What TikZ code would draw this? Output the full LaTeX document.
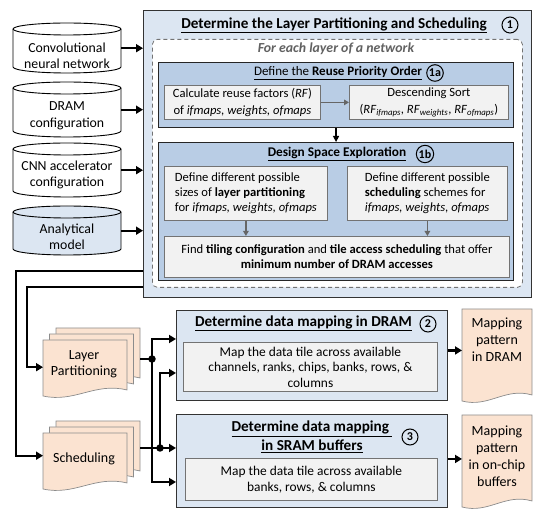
\documentclass[tikz,border=0pt]{standalone}
\usepackage{fontspec}
\setmainfont{Carlito}
\usetikzlibrary{arrows.meta}
\definecolor{lblue}{HTML}{DCE6F2}
\definecolor{mblue}{HTML}{B9CDE5}
\definecolor{gbox}{HTML}{F2F2F2}
\definecolor{peach}{HTML}{FBE3D1}
\newcommand\fntA{\fontsize{12.6}{15}\selectfont}
\newcommand\fntB{\fontsize{13.6}{16}\selectfont}
\newcommand\fntC{\fontsize{13.8}{16.5}\selectfont}
\newcommand\fntT{\fontsize{15.2}{18}\selectfont}
\newcommand\drawdoc[4]{%
  \filldraw[docfill] (#1,#2) -- (#3,#2) -- (#3,{#4-7})
    .. controls ({#1+0.62*(#3-#1)},{#4-15}) and ({#1+0.38*(#3-#1)},{#4+6}) .. (#1,{#4-1}) -- cycle;}
\newcommand\drawcyl[4]{%
  \filldraw[cylline, fill=#4] (#1,{#2+6}) -- (#1,{#3-6})
    arc[start angle=180, end angle=360, x radius=54pt, y radius=6pt]
    -- ({#1+108},{#2+6})
    arc[start angle=0, end angle=180, x radius=54pt, y radius=6pt] -- cycle;
  \draw[cylline] (#1,{#2+6}) arc[start angle=180, end angle=360, x radius=54pt, y radius=6pt];}
\begin{document}
\begin{tikzpicture}[x=1pt,y=-1pt,
  font=\fntB,
  bigbox/.style={draw=black!80, line width=0.9pt, fill=lblue, anchor=north west, inner sep=0},
  midbox/.style={draw=black!85, line width=1.1pt, fill=mblue, anchor=north west, inner sep=0},
  graybox/.style={draw=black!55, line width=0.8pt, fill=gbox, anchor=north west, inner sep=0},
  dashbox/.style={draw=black!55, line width=0.8pt, dash pattern=on 4pt off 3pt, rounded corners=5pt, fill=white, anchor=north west, inner sep=0},
  shapebox/.style={inner sep=0, anchor=north west},
  txt/.style={align=center, inner sep=0},
  ttl/.style={align=center, inner sep=0, font=\fntT\bfseries},
  num/.style={circle, draw, line width=1pt, inner sep=0.8pt, minimum size=16, font=\fontsize{12}{12}\selectfont\bfseries},
  thickline/.style={line width=2.2pt},
  arr/.style={line width=2.2pt, -{Triangle[length=7pt,width=8pt]}},
  barr/.style={line width=1.3pt, -{Triangle[length=6pt,width=6pt]}},
  garr/.style={draw=black!60, line width=1.4pt, -{Triangle[length=5pt,width=5.5pt]}},
  dot/.style={circle, fill=black, inner sep=0, minimum size=7.5},
  docfill/.style={fill=peach, draw=black!45, line width=0.7pt},
  cylline/.style={draw=black, line width=0.9pt}]
\useasboundingbox (0,0) rectangle (547,518);

% ---------- inputs (cylinders)
\drawcyl{13}{23}{73}{white}
\drawcyl{13}{82}{137}{white}
\drawcyl{13}{143}{197}{white}
\drawcyl{13}{206}{255}{lblue}
\node[shapebox, minimum width=108, minimum height=50] (cyl1) at (13,23) {};
\node[shapebox, minimum width=108, minimum height=55] (cyl2) at (13,82) {};
\node[shapebox, minimum width=108, minimum height=54] (cyl3) at (13,143) {};
\node[shapebox, minimum width=108, minimum height=49] (cyl4) at (13,206) {};
\node[txt, font=\fntC] (cyl1t) at (67,56) {Convolutional\\neural network};
\node[txt, font=\fntC] (cyl2t) at (67,116) {DRAM\\configuration};
\node[txt, font=\fntC] (cyl3t) at (67,175) {CNN accelerator\\configuration};
\node[txt, font=\fntC] (cyl4t) at (67,237) {Analytical\\model};

% ---------- step 1
\node[bigbox, minimum width=388, minimum height=287] (mainbox) at (143,10) {};
\node[ttl] (t1) at (334,25) {\underline{Determine the Layer Partitioning and Scheduling}};
\node[num] (n1) at (510,25) {1};
\node[dashbox, minimum width=370, minimum height=248] (dbox) at (152,39) {};
\node[txt, font=\fntC\bfseries\itshape, text=black!62] (foreach) at (336,49) {For each layer of a network};

\node[midbox, minimum width=355, minimum height=65] (box1a) at (158,62) {};
\node[txt, font=\fontsize{13}{15}\selectfont] (t1a) at (338,73) {\underline{Define the \textbf{Reuse Priority Order}}};
\node[num] (n1a) at (435,73) {1a};
\node[graybox, minimum width=156, minimum height=34, align=center, font=\fontsize{12.6}{17}\selectfont] (calc) at (164,85)
  {Calculate reuse factors (\textit{RF})\\of \textit{ifmaps, weights, ofmaps}};
\node[graybox, minimum width=159, minimum height=34, align=center, font=\fontsize{12.6}{17}\selectfont] (sort) at (349,85)
  {Descending Sort\\(\textit{RF}\textsubscript{\textit{ifmaps}}, \textit{RF}\textsubscript{\textit{weights}}, \textit{RF}\textsubscript{\textit{ofmaps}})};
\draw[garr] (calc.east) -- (sort.west);

\node[midbox, minimum width=355, minimum height=138] (box1b) at (158,142) {};
\draw[barr] (box1a.south) -- (box1b.north);
\node[ttl, font=\fontsize{13.3}{15}\selectfont\bfseries] (t1b) at (337,154) {\underline{Design Space Exploration}};
\node[num] (n1b) at (425,154) {1b};
\node[graybox, minimum width=163, minimum height=54, align=left, font=\fntA] (defL) at (164,166)
  {Define different possible\\sizes of \textbf{layer partitioning}\\for \textit{ifmaps, weights, ofmaps}};
\node[graybox, minimum width=160, minimum height=54, align=left, font=\fntA] (defR) at (347,166)
  {Define different possible\\\textbf{scheduling} schemes for\\\textit{ifmaps, weights, ofmaps}};
\node[graybox, minimum width=345, minimum height=41, align=center, font=\fntA] (find) at (164,236)
  {Find \textbf{tiling configuration} and \textbf{tile access scheduling} that offer\\\textbf{minimum number of DRAM accesses}};
\draw[garr] (defL.south) -- (defL.south |- find.north);
\draw[garr] (defR.south) -- (defR.south |- find.north);

\foreach \c in {cyl1,cyl2,cyl3,cyl4}
  \draw[arr] (\c.east) -- (\c.east -| mainbox.west);

% ---------- step 2 and 3
\node[bigbox, minimum width=271, minimum height=90] (box2) at (176,310) {};
\node[ttl] (t2) at (303.5,323) {\underline{Determine data mapping in DRAM}};
\node[num] (n2) at (428,324) {2};
\node[graybox, minimum width=254, minimum height=49, align=center, font=\fontsize{13.4}{15.5}\selectfont] (in2) at (183,342)
  {Map the data tile across available\\channels, ranks, chips, banks, rows, \&\\columns};

\node[bigbox, minimum width=271, minimum height=93] (box3) at (176,414) {};
\node[ttl] (t3) at (312,437) {\underline{Determine data mapping\ }\\[1pt]\underline{in SRAM buffers}};
\node[num] (n3) at (410,437) {3};
\node[graybox, minimum width=252, minimum height=42, align=center, font=\fontsize{13.4}{16}\selectfont] (in3) at (185,458)
  {Map the data tile across available\\banks, rows, \& columns};

% ---------- documents
\drawdoc{56}{328}{140}{385}
\drawdoc{49.5}{334}{133.5}{391}
\drawdoc{43}{340}{127}{397}
\node[shapebox, minimum width=97, minimum height=69] (lp) at (43,328) {};
\node[txt, font=\fontsize{14}{15.5}\selectfont] (lpt) at (84,364) {Layer\\Partitioning};

\drawdoc{56}{421}{140}{478}
\drawdoc{49.5}{427}{133.5}{484}
\drawdoc{43}{433}{127}{490}
\node[shapebox, minimum width=97, minimum height=69] (sched) at (43,421) {};
\node[txt, font=\fontsize{14}{15.5}\selectfont] (schedt) at (84,459) {Scheduling};

\drawdoc{462}{309}{532}{402}
\node[shapebox, minimum width=70, minimum height=93] (map1) at (462,309) {};
\node[txt, font=\fontsize{14}{17}\selectfont] (map1t) at (497,340) {Mapping\\pattern\\in DRAM};
\drawdoc{462}{415}{532}{508}
\node[shapebox, minimum width=70, minimum height=93] (map2) at (462,415) {};
\node[txt, font=\fontsize{14}{17}\selectfont] (map2t) at (497,456) {Mapping\\pattern\\in on-chip\\buffers};

% ---------- connectors
\coordinate (o1) at (16,271);
\coordinate (o2) at (27,287);
\draw[arr] (mainbox.west |- o1) -- (o1) |- (sched.west);
\draw[arr] (mainbox.west |- o2) -- (o2) |- ([yshift=-4.5pt]lp.west);

\coordinate (j1) at (152,359);
\coordinate (j2) at (160,448);
\coordinate (b2a) at (176,339);
\coordinate (b2b) at (176,373);
\coordinate (b3b) at (176,482);
\draw[thickline] (lp.east |- j1) -- (j1);
\draw[arr] (j1) |- (b2a);
\draw[arr] (j1) |- (b3b);
\draw[thickline] (sched.east |- j2) -- (j2);
\draw[arr] (j2) -- (box3.west |- j2);
\draw[arr] (j2) |- (b2b);
\node[dot] (j1dot) at (j1) {};
\node[dot] (j2dot) at (j2) {};

\draw[arr] ([yshift=5pt]box2.east) -- ([yshift=5pt]box2.east -| map1.west);
\draw[arr] ([yshift=2pt]box3.east) -- ([yshift=2pt]box3.east -| map2.west);
\end{tikzpicture}
\end{document}
